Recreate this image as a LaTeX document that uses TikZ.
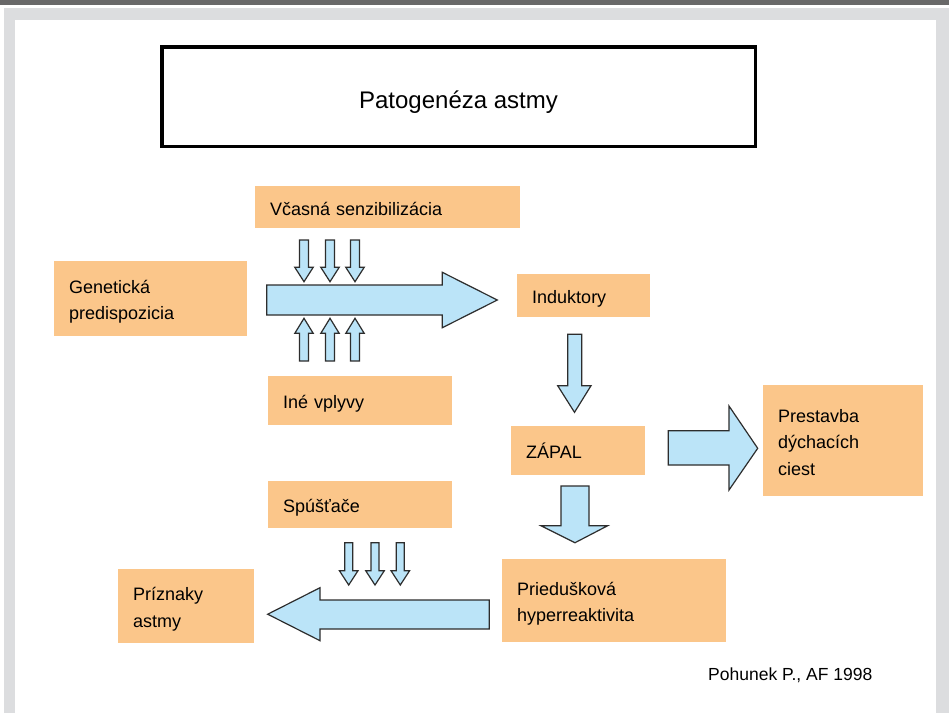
\documentclass[tikz,border=0pt]{standalone}
\usepackage{fontspec}
\setmainfont{Liberation Sans}
\usetikzlibrary{positioning}

\definecolor{boxorange}{RGB}{251,198,138}
\definecolor{arrowblue}{RGB}{187,228,248}
\definecolor{arrowline}{RGB}{45,45,45}
\definecolor{framegray}{RGB}{220,221,223}
\definecolor{headbar}{RGB}{104,104,104}

\tikzset{
  box/.style={fill=boxorange, inner xsep=15pt, inner ysep=0pt, align=left,
    anchor=north west, font=\fontsize{18}{26.5}\selectfont,
    execute at begin node={\rule{0pt}{20.5pt}},
    execute at end node={\rule[-4.6pt]{0pt}{0pt}}},
  blockarrow/.style={fill=arrowblue, draw=arrowline, line width=1.2pt, line join=miter},
}

\begin{document}
\begin{tikzpicture}[x=1pt,y=-1pt]
    % Page frame
    \useasboundingbox (0,0) rectangle (949,713);
    \fill[framegray] (4,8.3) rectangle (949,713);
    \fill[white] (15,20) rectangle (936,713);
    \fill[headbar] (0,0) rectangle (949,5);

    % Title
    \node[draw, line width=3.5pt, minimum width=593.5pt, minimum height=99.5pt,
      text height=25pt, text depth=2pt,
      font=\fontsize{24}{28}\selectfont] (title) at (458.5,96.5) {Patogenéza astmy};

    % Boxes
    \node[box, text width=235pt, minimum height=42pt] (vcasna) at (255,186) {Včasná senzibilizácia};
    \node[box, text width=163pt, minimum height=75pt] (genet) at (54,261) {Genetická\\predispozicia};
    \node[box, text width=103pt, minimum height=43pt] (induk) at (517,274) {Induktory};
    \node[box, text width=154pt, minimum height=49pt] (ine) at (268,376) {Iné vplyvy};
    \node[box, text width=104pt, minimum height=49pt] (zapal) at (511,426) {ZÁPAL};
    \node[box, text width=130pt, minimum height=111pt] (prestavba) at (763,385) {Prestavba\\dýchacích\\ciest};
    \node[box, text width=154pt, minimum height=47pt] (spustace) at (268,481) {Spúšťače};
    \node[box, text width=194pt, minimum height=83pt] (priedus) at (502,559) {Priedušková\\hyperreaktivita};
    \node[box, text width=106pt, minimum height=74pt] (priznaky) at (118,569) {Príznaky\\astmy};

    % Source
    \node[anchor=base west, inner sep=0pt, font=\fontsize{17.5}{20}\selectfont] (zdroj) at (708,680.7) {Pohunek P., AF 1998};

    % Main arrow to Induktory
    \draw[blockarrow] (266.7,285) -- (442.3,285) -- (442.3,272.3) -- (497.3,300)
      -- (442.3,327.7) -- (442.3,315) -- (266.7,315) -- cycle;

    % Small arrows from above and below
    \foreach \cx in {304,330,355} {
      \draw[blockarrow] (\cx-4.5,240) -- (\cx+4.5,240) -- (\cx+4.5,267.3) -- (\cx+9.2,267.3)
        -- (\cx,281.7) -- (\cx-9.2,267.3) -- (\cx-4.5,267.3) -- cycle;
      \draw[blockarrow] (\cx-4.5,361) -- (\cx+4.5,361) -- (\cx+4.5,333.3) -- (\cx+9.2,333.3)
        -- (\cx,318.3) -- (\cx-9.2,333.3) -- (\cx-4.5,333.3) -- cycle;
    }

    % Induktory -> ZAPAL
    \draw[blockarrow] (567.7,334.3) -- (581.7,334.3) -- (581.7,385.7) -- (591,385.7)
      -- (574.5,412.3) -- (557.7,385.7) -- (567.7,385.7) -- cycle;

    % ZAPAL -> Prestavba
    \draw[blockarrow] (668.3,430.7) -- (729,430.7) -- (729,406) -- (757.7,448.3)
      -- (729,490) -- (729,465) -- (668.3,465) -- cycle;

    % ZAPAL -> Prieduskova
    \draw[blockarrow] (561,486) -- (589,486) -- (589,525.7) -- (607.7,525.7)
      -- (575,542.7) -- (541,525.7) -- (561,525.7) -- cycle;

    % Spustace arrows
    \foreach \cx in {348.7,375,400.3}
      \draw[blockarrow] (\cx-4,542.7) -- (\cx+4,542.7) -- (\cx+4,570.7) -- (\cx+9.3,570.7)
        -- (\cx,585) -- (\cx-9.3,570.7) -- (\cx-4,570.7) -- cycle;

    % Prieduskova -> Priznaky
    \draw[blockarrow] (489.3,600) -- (320,600) -- (320,587.7) -- (267.7,614.2)
      -- (320,640.7) -- (320,629) -- (489.3,629) -- cycle;

\end{tikzpicture}
\end{document}
